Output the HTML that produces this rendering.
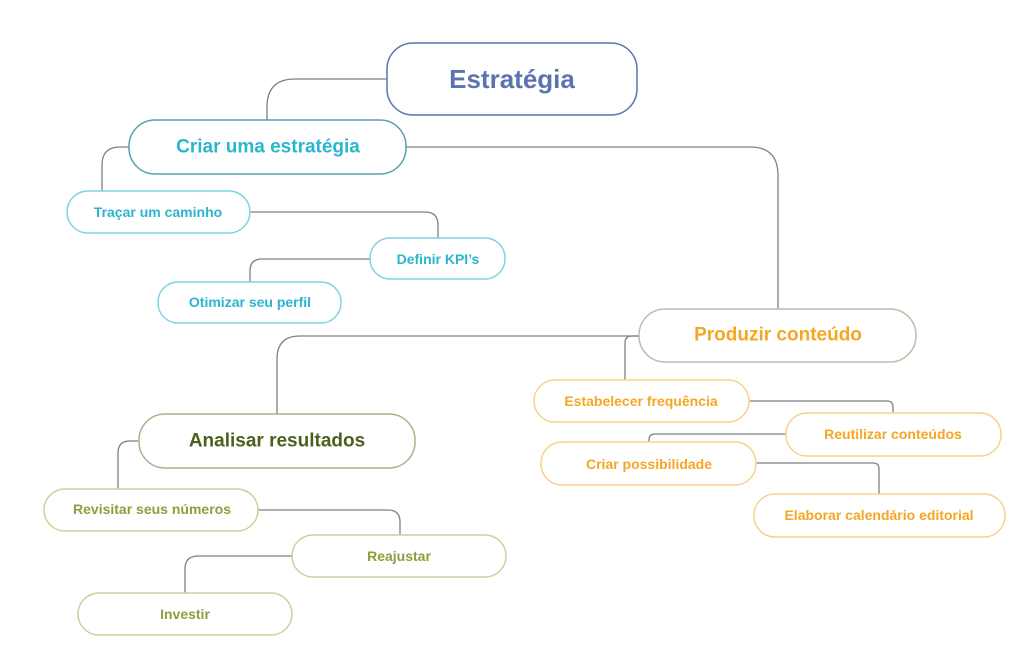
<!DOCTYPE html>
<html><head><meta charset="utf-8"><style>
html,body{margin:0;padding:0;background:#fff;}
svg{display:block;}
text{font-family:"Liberation Sans",sans-serif;font-weight:bold;text-anchor:middle;dominant-baseline:central;}
</style></head><body>
<svg width="1024" height="666" viewBox="0 0 1024 666" xmlns="http://www.w3.org/2000/svg">
<g fill="none" stroke="#808080" stroke-width="1.3">
<path d="M387,79 H295 Q267,79 267,107 V120"/>
<path d="M406,147 H750 Q778,147 778,175 V309"/>
<path d="M129,147 H120 Q102,147 102,165 V191"/>
<path d="M250,212 H425 Q438,212 438,225 V238"/>
<path d="M370,259 H262 Q250,259 250,271 V282"/>
<path d="M639,336 H300 Q277,336 277,359 V414"/>
<path d="M639,336 H632 Q625,336 625,343 V380"/>
<path d="M749,401 H887 Q893,401 893,407 V413"/>
<path d="M786,434 H655 Q649,434 649,440 V442"/>
<path d="M756,463 H873 Q879,463 879,469 V494"/>
<path d="M139,441 H130 Q118,441 118,453 V489"/>
<path d="M258,510 H388 Q400,510 400,522 V535"/>
<path d="M292,556 H198 Q185,556 185,569 V593"/>
</g>
<g fill="#fff" stroke-width="1.5">
<rect x="387" y="43" width="250" height="72" rx="26" stroke="#5b73b0"/>
<rect x="129" y="120" width="277" height="54" rx="26" stroke="#5aa0ad"/>
<rect x="67" y="191" width="183" height="42" rx="21" stroke="#7fd3e3"/>
<rect x="370" y="238" width="135" height="41" rx="20" stroke="#7fd3e3"/>
<rect x="158" y="282" width="183" height="41" rx="20" stroke="#7fd3e3"/>
<rect x="639" y="309" width="277" height="53" rx="26" stroke="#c6b7a6"/>
<rect x="534" y="380" width="215" height="42" rx="21" stroke="#fbd08a"/>
<rect x="786" y="413" width="215" height="43" rx="21" stroke="#fbd08a"/>
<rect x="541" y="442" width="215" height="43" rx="21" stroke="#fbd08a"/>
<rect x="754" y="494" width="251" height="43" rx="21" stroke="#fbd08a"/>
<rect x="139" y="414" width="276" height="54" rx="26" stroke="#aeb08e"/>
<rect x="44" y="489" width="214" height="42" rx="21" stroke="#c7d39a"/>
<rect x="292" y="535" width="214" height="42" rx="21" stroke="#c7d39a"/>
<rect x="78" y="593" width="214" height="42" rx="21" stroke="#c7d39a"/>
</g>
<text x="512" y="79" font-size="26" fill="#5b73b0">Estratégia</text>
<text x="268" y="147" font-size="19" fill="#2bb6cf">Criar uma estratégia</text>
<text x="158" y="212" font-size="14" fill="#2bb6cf">Traçar um caminho</text>
<text x="438" y="259" font-size="14" fill="#2bb6cf">Definir KPI’s</text>
<text x="250" y="302" font-size="14" fill="#2bb6cf">Otimizar seu perfil</text>
<text x="778" y="335" font-size="19" fill="#f5a623">Produzir conteúdo</text>
<text x="641" y="401" font-size="14" fill="#f5a623">Estabelecer frequência</text>
<text x="893" y="434" font-size="14" fill="#f5a623">Reutilizar conteúdos</text>
<text x="649" y="464" font-size="14" fill="#f5a623">Criar possibilidade</text>
<text x="879" y="515" font-size="14" fill="#f5a623">Elaborar calendário editorial</text>
<text x="277" y="441" font-size="19" fill="#4c5f1f">Analisar resultados</text>
<text x="152" y="509" font-size="14" fill="#8aa03e">Revisitar seus números</text>
<text x="399" y="556" font-size="14" fill="#8aa03e">Reajustar</text>
<text x="185" y="614" font-size="14" fill="#8aa03e">Investir</text>
</svg>
</body></html>
